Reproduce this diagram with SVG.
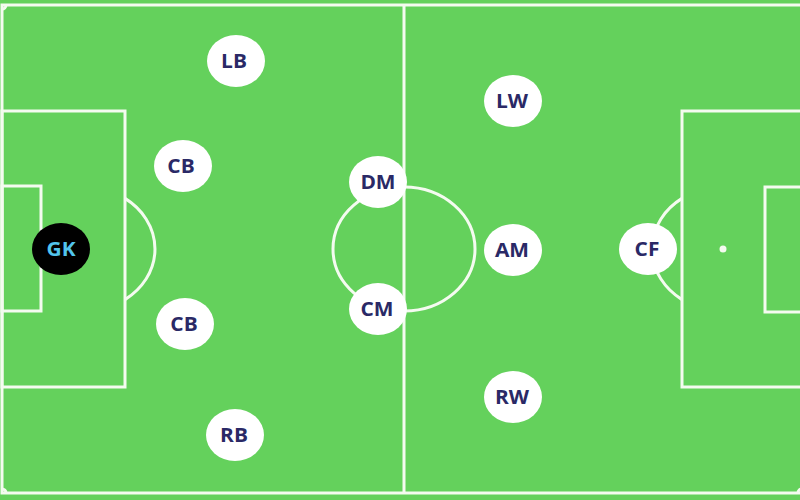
<svg xmlns="http://www.w3.org/2000/svg" width="800" height="500" viewBox="0 0 800 500">
  <style>
    .line { fill: none; stroke: #f4fbf0; stroke-width: 3; }
    .node ellipse { fill: #ffffff; }
    .node text { font-family: "Open Sans", "Noto Sans", "DejaVu Sans", sans-serif; font-weight: bold; font-size: 19px; fill: #2a2966; text-anchor: middle; }
    #gk ellipse { fill: #000000; }
    #gk text { fill: #52c4ec; }
  </style>
  <rect x="0" y="0" width="800" height="500" fill="#64d15c"/>
  <g id="pitch">
    <rect class="line" x="2" y="5" width="800" height="488"/>
    <line class="line" x1="404" y1="5" x2="404" y2="493"/>
    <ellipse class="line" cx="404" cy="249" rx="71" ry="62"/>
    <rect class="line" x="2" y="111" width="123" height="276"/>
    <rect class="line" x="2" y="186" width="39" height="125"/>
    <path class="line" d="M125 198.4 A71 62 0 0 1 125 299.6"/>
    <rect class="line" x="682" y="111" width="120" height="276"/>
    <rect class="line" x="765" y="187" width="37" height="125"/>
    <path class="line" d="M682 198.4 A71 62 0 0 0 682 299.6"/>
    <circle cx="723" cy="249" r="3.5" fill="#f4fbf0"/>
    <path class="line" d="M2 9 A4 4 0 0 0 6 5"/>
    <path class="line" d="M2 489 A4 4 0 0 1 6 493"/>
    <path class="line" d="M798 493 A4 4 0 0 1 802 489"/>
  </g>
  <g id="connectors"></g>
  <g id="gk" class="node"><ellipse cx="61" cy="249" rx="29" ry="26"/><text transform="translate(61 256) scale(1.1 1)">GK</text></g>
  <g id="lb" class="node"><ellipse cx="236" cy="61" rx="29" ry="26"/><text transform="translate(234 68) scale(1.1 1)">LB</text></g>
  <g id="cb1" class="node"><ellipse cx="183" cy="166" rx="29" ry="26"/><text transform="translate(181 173) scale(1.1 1)">CB</text></g>
  <g id="cb2" class="node"><ellipse cx="185" cy="324" rx="29" ry="26"/><text transform="translate(184 331) scale(1.1 1)">CB</text></g>
  <g id="rb" class="node"><ellipse cx="235" cy="435" rx="29" ry="26"/><text transform="translate(234 442) scale(1.1 1)">RB</text></g>
  <g id="dm" class="node"><ellipse cx="378" cy="182" rx="29" ry="26"/><text transform="translate(378 189) scale(1.1 1)">DM</text></g>
  <g id="cm" class="node"><ellipse cx="378" cy="309" rx="29" ry="26"/><text transform="translate(377 316) scale(1.1 1)">CM</text></g>
  <g id="lw" class="node"><ellipse cx="513" cy="101" rx="29" ry="26"/><text transform="translate(512 108) scale(1.1 1)">LW</text></g>
  <g id="am" class="node"><ellipse cx="513" cy="250" rx="29" ry="26"/><text transform="translate(512 257) scale(1.1 1)">AM</text></g>
  <g id="rw" class="node"><ellipse cx="513" cy="397" rx="29" ry="26"/><text transform="translate(512 404) scale(1.1 1)">RW</text></g>
  <g id="cf" class="node"><ellipse cx="648" cy="249" rx="29" ry="26"/><text transform="translate(647 256) scale(1.1 1)">CF</text></g>
</svg>
